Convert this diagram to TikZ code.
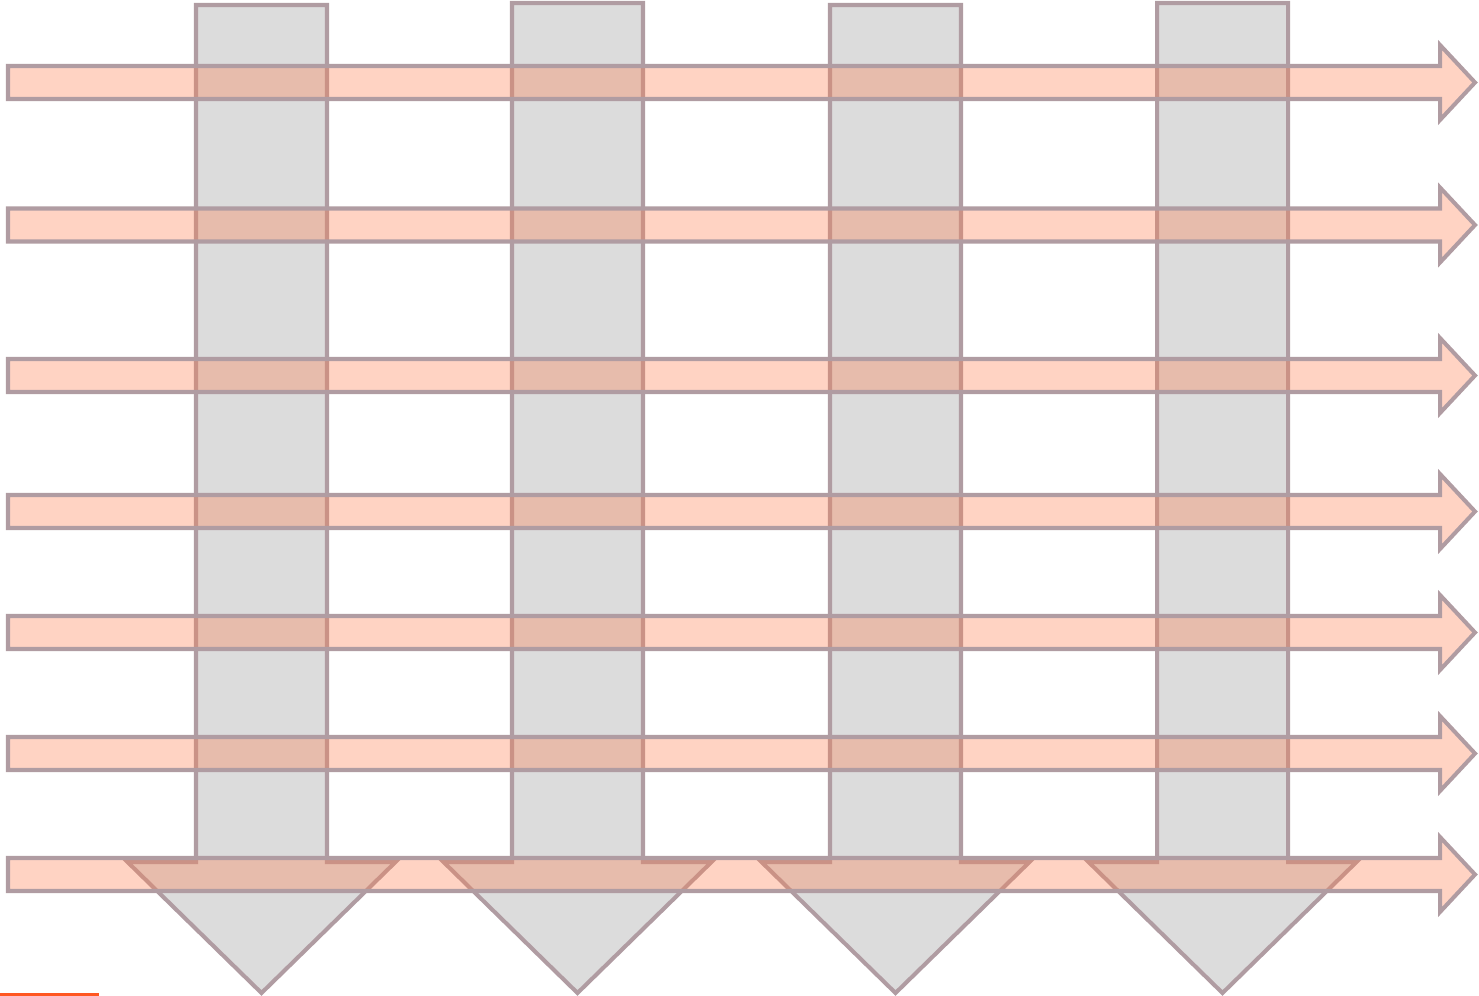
\documentclass[tikz,border=0pt]{standalone}
\definecolor{rim}{HTML}{B09CA2}
\definecolor{shaft}{HTML}{DCDCDC}
\definecolor{coral}{HTML}{FF7F50}
\definecolor{edgeline}{HTML}{FF5722}
\begin{document}
\begin{tikzpicture}[x=.02cm,y=-.02cm,line join=miter,
  down/.style={draw=rim,fill=shaft,line width=2.3pt},
  across/.style={draw=rim,fill=coral,fill opacity=.34,draw opacity=1,line width=2.3pt}]
\useasboundingbox(0,0) rectangle (1479,996);
\foreach \c/\t in {261.5/5,577.5/3,895.5/5,1222.5/3}{\draw[down](\c-65.5,\t)--(\c+65.5,\t)--(\c+65.5,862)--(\c+134,862)--(\c,993)--(\c-134,862)--(\c-65.5,862)--cycle;}
\foreach \y in {82.5,225,375.5,511.5,632.5,753.5,874.5}{\draw[across](8,\y-16.5)--(1440,\y-16.5)--(1440,\y-37.5)--(1475,\y)--(1440,\y+37.5)--(1440,\y+16.5)--(8,\y+16.5)--cycle;}
\fill[edgeline](0,992.5) rectangle (99,996);
\end{tikzpicture}
\end{document}
